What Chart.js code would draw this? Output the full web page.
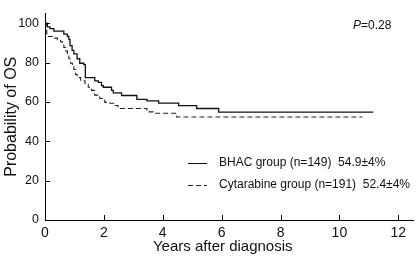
<!DOCTYPE html>
<html>
<head>
<meta charset="utf-8">
<script src="https://cdn.jsdelivr.net/npm/chart.js@4"></script>
<style>
  html, body { margin: 0; padding: 0; background: #fff; }
  #wrap { width: 416px; height: 263px; }
</style>
</head>
<body>
<div id="wrap"><canvas id="myChart" width="416" height="263"></canvas></div>
<script>
// tick labels
const xTicks = [0, 2, 4, 6, 8, 10, 12];
const yTicks = [0, 20, 40, 60, 80, 100];

// BHAC group (years, % surviving)
const bhacTime = [0, 0.08, 0.17, 0.3, 0.64, 0.76, 0.81, 0.85, 0.92, 0.98, 1.09, 1.18, 1.32, 1.37, 1.69, 1.81, 1.92, 1.98, 2.26, 2.32, 2.6, 3.12, 3.46, 3.86, 4.54, 5.15, 5.9, 11.15];
const bhacSurv = [100, 98.2, 97.3, 96, 94.5, 93.3, 91.7, 88.7, 86.3, 84.5, 82, 79.7, 79, 72.4, 70.7, 70, 68.3, 67.5, 65.9, 64.6, 63.3, 61.3, 60.6, 59.4, 58.2, 56.7, 54.9, 54.9];

// Cytarabine group
const cytaTime = [0, 0.06, 0.3, 0.42, 0.53, 0.59, 0.64, 0.7, 0.76, 0.81, 0.87, 0.93, 0.98, 1.04, 1.09, 1.21, 1.36, 1.47, 1.58, 1.69, 1.86, 1.98, 2.03, 2.2, 2.37, 2.48, 3.46, 3.7, 4.47, 10.78];
const cytaSurv = [100, 93.3, 92.5, 91.7, 90.6, 89.3, 87.7, 86, 83.7, 82, 79.7, 78, 76.5, 74, 72.4, 70.8, 69, 67.5, 65.9, 63.5, 61.8, 61, 59.8, 59.4, 58.2, 56.7, 55, 54.3, 52.4, 52.4];

const labels = ["BHAC group (n=149)  54.9\u00b14%", "Cytarabine group (n=191)  52.4\u00b14%"];
const pText = "=0.28";

const FONT = "'Liberation Sans', Arial, sans-serif";

function toPoints(t, s) {
  return t.map((v, i) => ({ x: v, y: s[i] }));
}

// inward tick marks, legend and P value
const extras = {
  id: "extras",
  afterDraw(chart) {
    const ctx = chart.ctx;
    const xs = chart.scales.x, ys = chart.scales.y;
    const area = chart.chartArea;
    ctx.save();
    ctx.strokeStyle = "#000";
    ctx.lineWidth = 1;
    ctx.beginPath();
    xTicks.forEach(v => {
      const px = Math.round(xs.getPixelForValue(v)) + 0.5;
      ctx.moveTo(px, area.bottom);
      ctx.lineTo(px, area.bottom - 5);
    });
    yTicks.forEach(v => {
      const py = Math.round(ys.getPixelForValue(v)) + 0.5;
      ctx.moveTo(area.left, py);
      ctx.lineTo(area.left + 5, py);
    });
    ctx.stroke();

    // legend
    ctx.font = "12px " + FONT;
    ctx.fillStyle = "#111";
    ctx.textBaseline = "middle";
    chart.data.datasets.forEach((ds, i) => {
      const y = 163 + i * 22;
      ctx.beginPath();
      ctx.strokeStyle = ds.borderColor;
      ctx.lineWidth = 1;
      ctx.setLineDash(ds.borderDash || []);
      ctx.moveTo(188, y + 0.5);
      ctx.lineTo(207, y + 0.5);
      ctx.stroke();
      ctx.setLineDash([]);
      ctx.fillText(labels[i], 219, y);
    });

    // P value
    ctx.font = "italic 12px " + FONT;
    ctx.fillText("P", 353, 26);
    const w = ctx.measureText("P").width;
    ctx.font = "12px " + FONT;
    ctx.fillText(pText, 353 + w, 26);
    ctx.restore();
  }
};

const config = {
  type: "line",
  data: {
    datasets: [
      {
        label: "BHAC group",
        data: toPoints(bhacTime, bhacSurv),
        borderColor: "#111",
        borderWidth: 1.3,
        stepped: true,
        pointRadius: 0,
        fill: false
      },
      {
        label: "Cytarabine group",
        data: toPoints(cytaTime, cytaSurv),
        borderColor: "#222",
        borderWidth: 1.1,
        borderDash: [5, 3],
        stepped: true,
        pointRadius: 0,
        fill: false
      }
    ]
  },
  options: {
    responsive: false,
    animation: false,
    layout: { padding: { top: 2, right: 3, left: 0, bottom: 0 } },
    plugins: { legend: { display: false }, tooltip: { enabled: false } },
    scales: {
      x: {
        type: "linear",
        min: 0,
        max: 12.5,
        afterBuildTicks: s => { s.ticks = xTicks.map(v => ({ value: v })); },
        afterFit: s => { s.height = 43; },
        grid: { display: false, drawTicks: false },
        border: { display: true, color: "#000", width: 1 },
        ticks: { color: "#111", padding: 5, font: { family: FONT, size: 14 }, maxRotation: 0 },
        title: { display: true, text: "Years after diagnosis\u00a0\u00a0\u00a0", color: "#111", font: { family: FONT, size: 15 }, padding: { top: 0, bottom: 7 } }
      },
      y: {
        min: 0,
        max: 105,
        afterBuildTicks: s => { s.ticks = yTicks.map(v => ({ value: v })); },
        afterFit: s => { s.width = 45; },
        grid: { display: false, drawTicks: false },
        border: { display: true, color: "#000", width: 1 },
        ticks: { color: "#111", padding: 6, font: { family: FONT, size: 12.5 } },
        title: { display: true, text: "Probability of OS", color: "#111", font: { family: FONT, size: 16 }, padding: { top: 2, bottom: 0 } }
      }
    }
  },
  plugins: [extras]
};

var myChart = new Chart(document.getElementById("myChart"), config);
</script>
</body>
</html>
